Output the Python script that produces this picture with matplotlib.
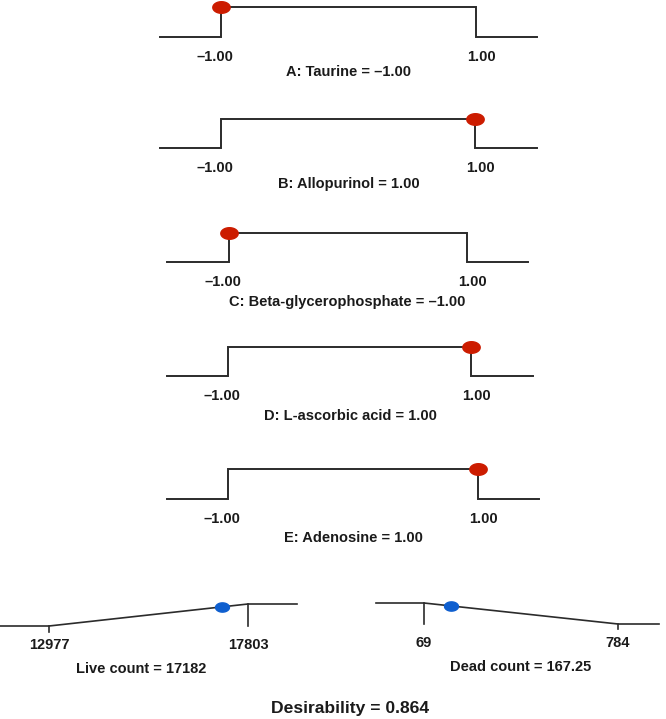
import numpy as np
import matplotlib
matplotlib.use("Agg")
import matplotlib.pyplot as plt
from matplotlib.path import Path

# ---------------- data ----------------
factor_names = ["A: Taurine", "B: Allopurinol", "C: Beta-glycerophosphate",
                "D: L-ascorbic acid", "E: Adenosine"]
factor_low = [-1.00, -1.00, -1.00, -1.00, -1.00]
factor_high = [1.00, 1.00, 1.00, 1.00, 1.00]
factor_values = [-1.00, 1.00, -1.00, 1.00, 1.00]

response_names = ["Live count", "Dead count"]
response_bounds = [[12977, 17803], [69, 784]]
response_desir = [[0, 1], [1, 0]]          # desirability at the two bounds
response_values = [17182, 167.25]
response_value_labels = ["17182", "167.25"]
overall_desirability = 0.864

# ---------------- layout (pixels) ----------------
W, H = 666, 719
# left end, step1, step2, right end, top, base
factor_layout = [
    (160, 221, 476, 537, 7, 37),
    (160, 221, 475, 537, 119, 148),
    (167, 229, 467, 528, 233, 262),
    (167, 228, 471, 533, 347, 376),
    (167, 228, 478, 539, 469, 499),
]
factor_title_offset = [-25, -26, -29, -29, -28]
factor_label_dx = [-4.5, 4.0]
response_layout = [
    (0, 49, 248, 297, 604, 626),
    (376, 424, 618, 659, 603, 624),
]
response_title_dx = [-5, 2]

LINE = "#2b2b2b"
TEXT = "#1a1a1a"
RED = "#cc1c00"
BLUE = "#0f5fcf"
FONT = "Liberation Sans"
FS = 10.5

th = np.linspace(0, 2 * np.pi, 80)
ellipse = Path(np.c_[1.5 * np.cos(th), np.sin(th)], closed=True)

fig = plt.figure(figsize=(W / 100, H / 100), dpi=100)
fig.patch.set_facecolor("white")


def fmt(v):
    return f"{v:.2f}".replace("-", "\u2013")


def make_ax(L, s1, s2, R, top, base, lo, hi):
    ax = fig.add_axes([L / W, 1 - base / H, (R - L) / W, (base - top) / H])
    unit = (s2 - s1) / (hi - lo)
    xlim = (lo - (s1 - L) / unit, hi + (R - s2) / unit)
    ax.set_xlim(*xlim)
    ax.set_ylim(0, 1)
    ax.axis("off")
    return ax, xlim


for i, name in enumerate(factor_names):
    L, s1, s2, R, top, base = factor_layout[i]
    lo, hi, v = factor_low[i], factor_high[i], factor_values[i]
    ax, xlim = make_ax(L, s1, s2, R, top, base, lo, hi)
    ax.plot([xlim[0], lo, lo, hi, hi, xlim[1]], [0, 0, 1, 1, 0, 0],
            color=LINE, lw=1.4, clip_on=False, solid_joinstyle="miter")
    ax.plot([v], [1], marker=ellipse, ms=12.5, color=RED, ls="none",
            clip_on=False, zorder=5)
    for b, dx in zip((lo, hi), factor_label_dx):
        ax.annotate(fmt(b), xy=(b, 0), xytext=(dx, -14.5), textcoords="offset points",
                    ha="center", va="center", fontsize=FS, fontweight="bold",
                    family=FONT, color=TEXT, annotation_clip=False)
    ax.annotate(f"{name} = {fmt(v)}", xy=(0.5, 0), xycoords="axes fraction",
                xytext=(0, factor_title_offset[i]), textcoords="offset points",
                ha="center", va="center", fontsize=FS, fontweight="bold",
                family=FONT, color=TEXT, annotation_clip=False)

for i, name in enumerate(response_names):
    L, s1, s2, R, top, base = response_layout[i]
    lo, hi = response_bounds[i]
    dlo, dhi = response_desir[i]
    v = response_values[i]
    ax, xlim = make_ax(L, s1, s2, R, top, base, lo, hi)
    ax.plot([xlim[0], lo, hi, xlim[1]], [dlo, dlo, dhi, dhi],
            color=LINE, lw=1.2, clip_on=False)
    for b, d in ((lo, dlo), (hi, dhi)):
        if d == 1:
            ax.plot([b, b], [1, 0], color=LINE, lw=1.2, clip_on=False)
        else:
            ax.plot([b, b], [0, -0.25], color=LINE, lw=1.2, clip_on=False)
        ax.annotate(f"{b}", xy=(b, 0), xytext=(0, -13.5), textcoords="offset points",
                    ha="center", va="center", fontsize=FS, fontweight="bold",
                    family=FONT, color=TEXT, annotation_clip=False)
    dv = np.interp(v, [lo, hi], [dlo, dhi])
    ax.plot([v], [dv], marker=ellipse, ms=10, color=BLUE, ls="none",
            clip_on=False, zorder=5)
    ax.annotate(f"{name} = {response_value_labels[i]}", xy=(0.5, 0),
                xycoords="axes fraction", xytext=(response_title_dx[i], -31),
                textcoords="offset points",
                ha="center", va="center", fontsize=FS, fontweight="bold",
                family=FONT, color=TEXT, annotation_clip=False)

fig.text(350 / W, 1 - 708 / H, f"Desirability = {overall_desirability:.3f}",
         ha="center", va="center", fontsize=12.6, fontweight="bold",
         family=FONT, color=TEXT)

fig.savefig("out.png", dpi=100, facecolor="white")
